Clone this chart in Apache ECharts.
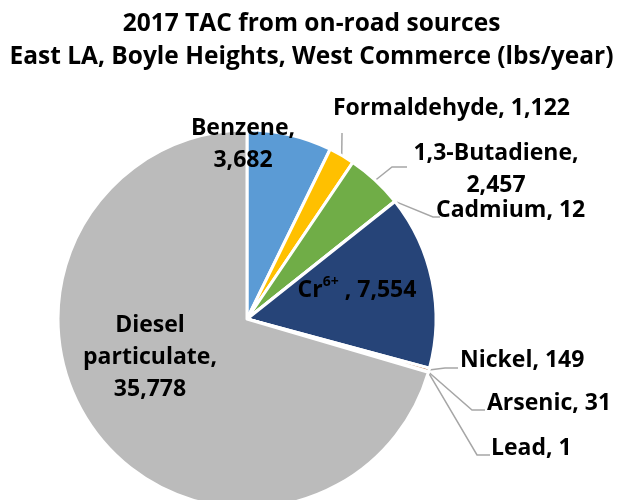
<!DOCTYPE html>
<html>
<head>
<meta charset="utf-8">
<script src="https://cdn.jsdelivr.net/npm/echarts@6/dist/echarts.min.js"></script>
<style>html,body{margin:0;padding:0;background:#fff}#c{width:623px;height:500px}</style>
</head>
<body>
<div id="c"></div>
<script>
const titleLines = ['2017 TAC from on-road sources', 'East LA, Boyle Heights, West Commerce (lbs/year)'];
const categories = ['Benzene', 'Formaldehyde', '1,3-Butadiene', 'Cadmium', 'Cr6+', 'Nickel', 'Arsenic', 'Lead', 'Diesel particulate'];
const values = [3682, 1122, 2457, 12, 7554, 149, 31, 1, 35778];

const palette = ['#5B9BD5', '#FFC000', '#70AD47', '#A5A5A5', '#264478', '#9E480E', '#636363', '#997300', '#BBBBBB'];
const FONT = '"Open Sans"';
const LFS = 23;
const CX = 247, CY = 319, R = 189;

// label placement (layout only)
const layout = {
  0: {x: 243, y: 144, align: 'center', text: n => n + ',\n'},
  1: {x: 333, y: 108, align: 'left', line: [[342, 133], [342, 133]]},
  2: {x: 496, y: 169, align: 'center', text: n => n + ',\n', line: [[392, 167], [407, 167]]},
  3: {x: 436, y: 210, align: 'left', line: [[433, 217], [440, 217]]},
  4: {x: 357, y: 290, align: 'center'},
  5: {x: 460, y: 360, align: 'left', line: [[445, 368], [458, 368]]},
  6: {x: 487, y: 403, align: 'left', line: [[472, 410], [485, 410]]},
  7: {x: 491, y: 448, align: 'left', line: [[477, 455], [490, 455]]},
  8: {x: 150, y: 357, align: 'center', text: n => n.replace(' ', '\n') + ',\n'}
};

const fmtNum = v => v.toLocaleString('en-US');

const data = categories.map((name, i) => {
  const l = layout[i];
  const outside = !!l.line;
  return {
    name: name,
    value: values[i],
    itemStyle: {color: palette[i]},
    label: {position: outside ? 'outside' : 'inside'},
    labelLine: {show: outside}
  };
});

const chart = echarts.init(document.getElementById('c'));
chart.setOption({
  animation: false,
  backgroundColor: '#fff',
  title: {
    text: titleLines.join('\n'),
    left: 'center',
    top: 3,
    textStyle: {fontFamily: FONT, fontWeight: 'bold', fontSize: 24.5, lineHeight: 33, color: '#000'}
  },
  series: [{
    type: 'pie',
    center: [CX, CY],
    radius: R,
    startAngle: 90,
    clockwise: true,
    avoidLabelOverlap: false,
    itemStyle: {borderColor: '#fff', borderWidth: 3},
    label: {
      fontFamily: FONT, fontWeight: 'bold', fontSize: LFS, lineHeight: 32, color: '#000',
      formatter: p => {
        const l = layout[p.dataIndex];
        const sup = p.name.match(/^(.*?)(\d+\+)$/);
        if (sup) return '{n|' + sup[1] + '}{s|' + sup[2] + '}{n| , ' + fmtNum(p.value) + '}';
        const head = l.text ? l.text(p.name) : p.name + ', ';
        return head + fmtNum(p.value);
      },
      rich: {
        n: {fontFamily: FONT, fontWeight: 'bold', fontSize: LFS, lineHeight: 30, color: '#000'},
        s: {fontFamily: FONT, fontWeight: 'bold', fontSize: 14, lineHeight: 30, verticalAlign: 'top', color: '#000'}
      }
    },
    labelLine: {lineStyle: {color: '#A6A6A6', width: 1.5}, length: 10, length2: 10},
    labelLayout: params => {
      const l = layout[params.dataIndex];
      const out = {x: l.x, y: l.y, align: l.align, verticalAlign: 'middle', hideOverlap: false, moveOverlap: false};
      if (l.line && params.labelLinePoints) {
        out.labelLinePoints = [params.labelLinePoints[0], l.line[0], l.line[1]];
      }
      return out;
    },
    data: data
  }]
});
</script>
</body>
</html>
